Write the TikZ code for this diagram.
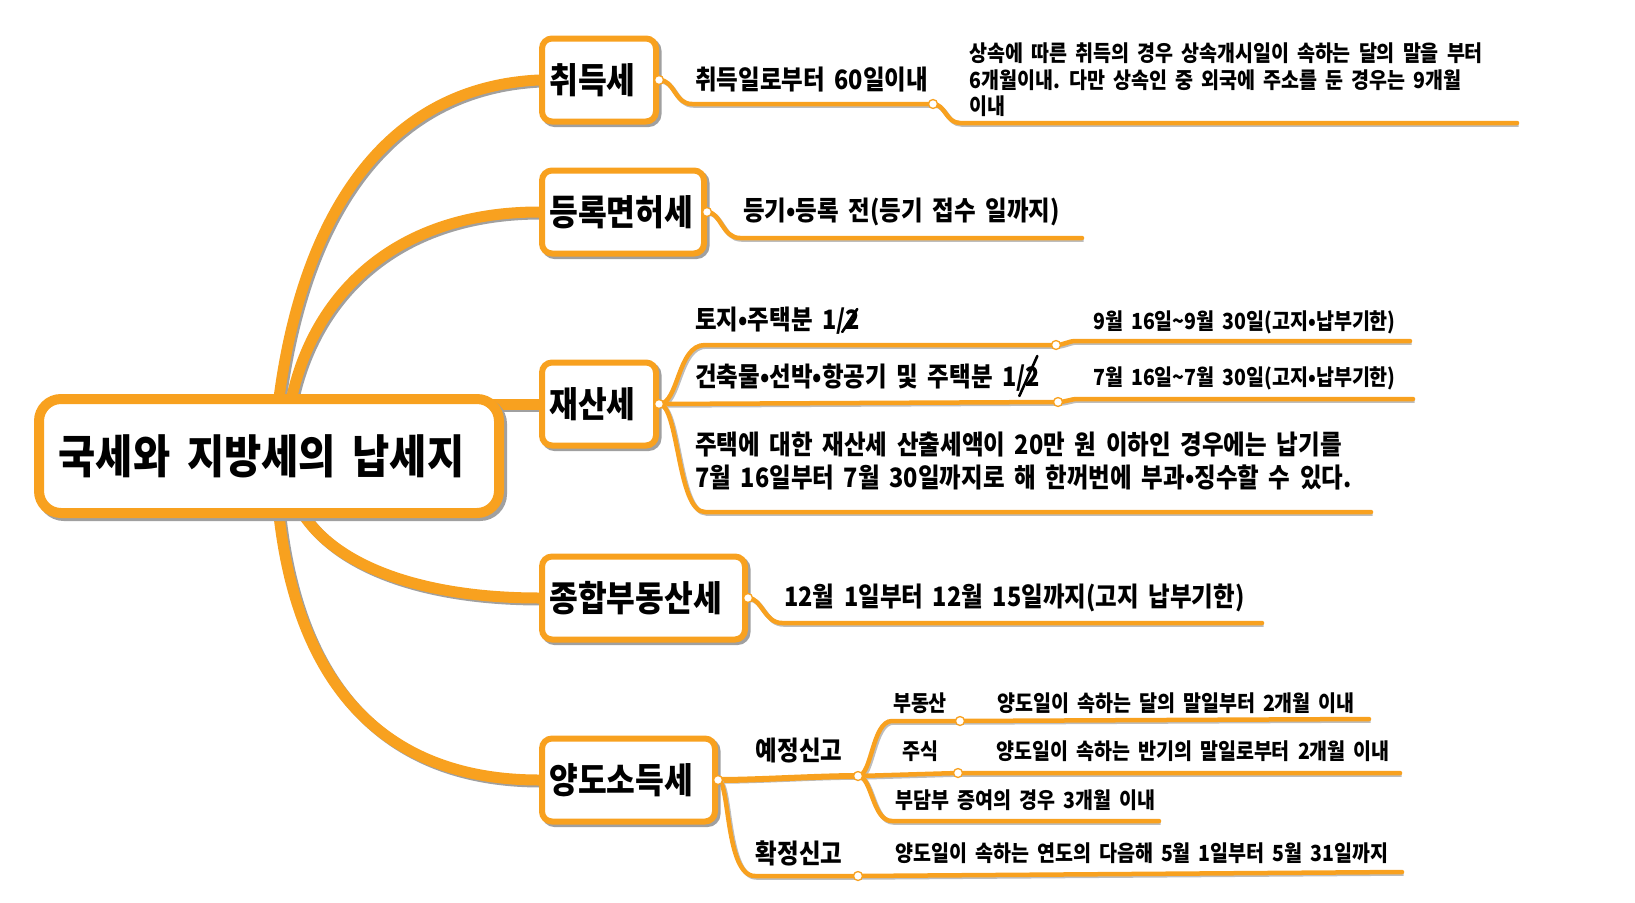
\documentclass[tikz,border=0pt]{standalone}
\usepackage{fontspec}
\usepackage{tikz}
\usetikzlibrary{positioning,calc,backgrounds}
\newfontfamily\kr[FakeStretch=0.88,WordSpace=1.8]{Noto Sans CJK KR}
\definecolor{mindorange}{HTML}{F8A11F}
\definecolor{shadegray}{HTML}{A0A0A0}
\tikzset{
  rootbox/.style={
    draw=mindorange,
    fill=white,
    line width=10pt,
    rounded corners=22pt,
    minimum width=460pt,
    minimum height=114pt,
    font=\kr\bfseries\fontsize{46}{54}\selectfont,
    preaction={draw=shadegray, line width=10pt, transform canvas={shift={(3,3)}}}
  },
  taxbox/.style={
    draw=mindorange,
    fill=white,
    line width=6pt,
    rounded corners=10pt,
    minimum height=83pt,
    inner xsep=7.5pt,
    align=left,
    anchor=west,
    font=\kr\bfseries\fontsize{35.5}{42}\selectfont,
    preaction={draw=shadegray, line width=6pt, transform canvas={shift={(2.5,2.5)}}}
  },
  branchline/.style={draw=mindorange, line width=11pt, line cap=round,
    preaction={draw=shadegray, line width=11pt, transform canvas={shift={(2,2)}}}},
  twigline/.style={draw=mindorange, line width=4.5pt, line cap=round,
    preaction={draw=shadegray!70, line width=4.5pt, transform canvas={shift={(1.5,1.5)}}}},
  jointdot/.style={circle, draw=mindorange, fill=white, line width=1.3pt, inner sep=0pt, minimum size=9pt},
  leaftext/.style={font=\kr\bfseries\fontsize{26.7}{32.5}\selectfont, anchor=west, inner sep=0pt},
  midtext/.style={font=\kr\bfseries\fontsize{26.7}{32}\selectfont, inner sep=0pt},
  smalltext/.style={font=\kr\bfseries\fontsize{22.2}{26.5}\selectfont, anchor=west, inner sep=0pt},
  penstroke/.style={draw=black, line width=2.6pt, line cap=round}
}
\begin{document}
\begin{tikzpicture}[x=1pt, y=-1pt]
\useasboundingbox (0,0) rectangle (1635,902);

% root and tax boxes
\node[rootbox] (root) at (269,456) {국세와 지방세의 납세지\hspace*{15pt}};
\node[taxbox, text width=99pt] (acq) at (539,80) {취득세};
\node[taxbox, text width=147pt] (reg) at (539,212) {등록면허세};
\node[taxbox, text width=99pt] (prop) at (539,404) {재산세};
\node[taxbox, text width=188pt] (comp) at (539,598) {종합부동산세};
\node[taxbox, text width=158pt] (cgt) at (539,780) {양도소득세};

% joints and free ends
\coordinate (acqa) at (acq.east);
\coordinate (acqj) at (933,104);
\coordinate (acqe) at (1517,123);
\coordinate (rega) at (reg.east);
\coordinate (rege) at (1082,238);
\coordinate (propa) at (prop.east);
\coordinate (propj1) at (1056,345);
\coordinate (prope1) at (1410,341);
\coordinate (propj2) at (1058,402);
\coordinate (prope2) at (1413,399);
\coordinate (prope3) at (1371,512);
\coordinate (compa) at (comp.east);
\coordinate (compe) at (1262,623);
\coordinate (cgta) at (cgt.east);
\coordinate (cgtj1) at (858,776);
\coordinate (cgtj2) at (858,876);
\coordinate (cgte2) at (1402,872);
\coordinate (cgtj3) at (960,721);
\coordinate (cgte3) at (1369,719);
\coordinate (cgtj4) at (958,773);
\coordinate (cgte4) at (1400,773);
\coordinate (cgte5) at (1159,821);

\begin{scope}[on background layer]
% main branches
\draw[branchline] ($(root.north)+(9,12)$) .. controls (298,240) and (370,88) .. (acq.west);
\draw[branchline] ($(root.north)+(21,12)$) .. controls (310,300) and (390,212) .. (reg.west);
\draw[branchline] (prop.west -| root.center) -- (prop.west);
\draw[branchline] ($(root.south)+(29,-12)$) .. controls (330,565) and (420,598) .. (comp.west);
\draw[branchline] ($(root.south)+(9,-12)$) .. controls (295,680) and (380,780) .. (cgt.west);
% twigs
\draw[twigline] (acqa) .. controls +(16,0) and +(-18,0) .. (692,104) -- (acqj)
  .. controls +(12,0) and +(-14,0) .. (960,123) -- (acqe);
\draw[twigline] (rega) .. controls +(14,0) and +(-18,0) .. (740,238) -- (rege);
\draw[twigline] (propa) .. controls +(20,0) and +(-28,0) .. (705,345) -- (propj1)
  .. controls +(8,0) and +(-8,0) .. (1076,341) -- (prope1);
\draw[twigline] (propa) -- (propj2) .. controls +(8,0) and +(-8,0) .. (1078,399) -- (prope2);
\draw[twigline] (propa) .. controls +(20,0) and +(-28,0) .. (705,512) -- (prope3);
\draw[twigline] (compa) .. controls +(14,0) and +(-18,0) .. (782,623) -- (compe);
\draw[twigline, line width=6pt] (cgta) .. controls +(40,0) and +(-40,0) .. (cgtj1);
\draw[twigline] (cgta) .. controls +(12,0) and +(-30,0) .. (755,876) -- (cgtj2) -- (cgte2);
\draw[twigline] (cgtj1) .. controls +(14,0) and +(-20,0) .. (892,721) -- (cgtj3) -- (cgte3);
\draw[twigline] (cgtj1) -- (cgtj4) -- (cgte4);
\draw[twigline] (cgtj1) .. controls +(14,0) and +(-20,0) .. (892,821) -- (cgte5);
\end{scope}

\foreach \j in {acqa,acqj,rega,propa,propj1,propj2,compa,cgta,cgtj1,cgtj2,cgtj3,cgtj4}
  \node[jointdot] (\j dot) at (\j) {};

% texts
\node[leaftext] (acqlabel) at (695,80) {취득일로부터 60일이내};
\node[smalltext, align=left] (acqnote) at (969,80) {상속에 따른 취득의 경우 상속개시일이 속하는 달의 말을 부터\\6개월이내. 다만 상속인 중 외국에 주소를 둔 경우는 9개월\\이내};
\node[leaftext] (reglabel) at (743,212) {등기•등록 전(등기 접수 일까지)};
\node[leaftext] (proplabel1) at (695,321) {토지•주택분 1/2};
\node[smalltext] (propdue1) at (1093,322) {9월 16일\textasciitilde 9월 30일(고지•납부기한)};
\node[leaftext] (proplabel2) at (695,378) {건축물•선박•항공기 및 주택분 1/2};
\node[smalltext] (propdue2) at (1093,378) {7월 16일\textasciitilde 7월 30일(고지•납부기한)};
\node[leaftext, align=left] (propnote) at (695,461) {주택에 대한 재산세 산출세액이 20만 원 이하인 경우에는 납기를\\7월 16일부터 7월 30일까지로 해 한꺼번에 부과•징수할 수 있다.};
\node[leaftext] (complabel) at (784,598) {12월 1일부터 12월 15일까지(고지 납부기한)};
\node[midtext] (cgtpre) at (799,751) {예정신고};
\node[midtext] (cgtfin) at (799,853) {확정신고};
\node[smalltext, anchor=center] (cgtland) at (920,703) {부동산};
\node[smalltext] (cgtlanddue) at (997,703) {양도일이 속하는 달의 말일부터 2개월 이내};
\node[smalltext, anchor=center] (cgtstock) at (920,751) {주식};
\node[smalltext] (cgtstockdue) at (996,751) {양도일이 속하는 반기의 말일로부터 2개월 이내};
\node[smalltext] (cgtgift) at (895,800) {부담부 증여의 경우 3개월 이내};
\node[smalltext] (cgtfindue) at (895,853) {양도일이 속하는 연도의 다음해 5월 1일부터 5월 31일까지};

% pen marks over the halves
\draw[penstroke] ($(proplabel1.east)+(-18,11)$) -- ($(proplabel1.east)+(-3,-12)$);
\draw[penstroke] ($(proplabel2.east)+(-21,18)$) -- ($(proplabel2.east)+(-3,-22)$);
\end{tikzpicture}
\end{document}
